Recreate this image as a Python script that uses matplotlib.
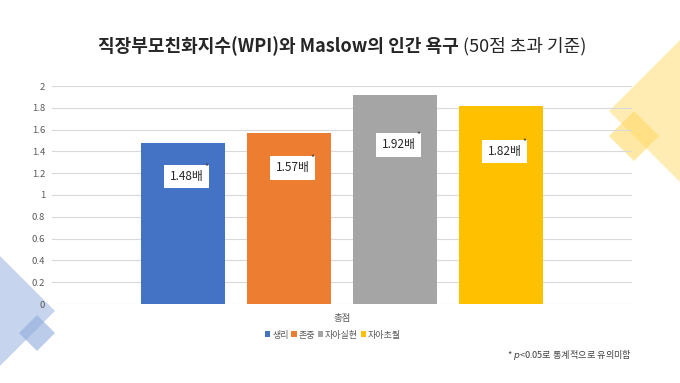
import matplotlib
matplotlib.use("Agg")
import matplotlib.pyplot as plt
from matplotlib.patches import Polygon, Patch
import numpy as np

plt.rcParams['font.family'] = ['Noto Sans CJK KR', 'DejaVu Sans']

series = ['생리', '존중', '자아실현', '자아초월']
values = [1.48, 1.57, 1.92, 1.82]
value_labels = ['1.48배', '1.57배', '1.92배', '1.82배']
label_y = [1.17, 1.25, 1.46, 1.40]
category = '총점'
colors = ['#4472C4', '#ED7D31', '#A5A5A5', '#FFC000']
yticks = [0, 0.2, 0.4, 0.6, 0.8, 1, 1.2, 1.4, 1.6, 1.8, 2]
ytick_labels = ['0', '0.2', '0.4', '0.6', '0.8', '1', '1.2', '1.4', '1.6', '1.8', '2']

W, H = 680, 383
fig = plt.figure(figsize=(W/100, H/100), dpi=100)

# decoration layer
deco = fig.add_axes([0, 0, 1, 1], zorder=0)
deco.set_xlim(0, W); deco.set_ylim(H, 0); deco.axis('off')
def diamond(cx, cy, r, color, alpha):
    deco.add_patch(Polygon([(cx - r, cy), (cx, cy - r), (cx + r, cy), (cx, cy + r)],
                           closed=True, facecolor=color, edgecolor='none', alpha=alpha))
diamond(-3, 311, 58, '#B4C7E7', 0.75)
diamond(37, 333, 18, '#8FAADC', 0.6)
diamond(680, 111, 71, '#FFE699', 0.75)
diamond(634, 136, 25, '#FFD966', 0.6)

ax = fig.add_axes([52/W, 1 - 304/H, 580/W, (304 - 86)/H], zorder=1)
ax.patch.set_alpha(0)
n = len(values)
width = 0.145
step = 0.1828
xs = (np.arange(n) - (n - 1) / 2) * step
ax.bar(xs, values, width=width, color=colors, zorder=3)
ax.set_xlim(-0.5, 0.5)
ax.set_ylim(0, 2)
ax.set_yticks(yticks)
ax.set_yticklabels(ytick_labels)
ax.set_xticks([0])
ax.set_xticklabels([category])
ax.tick_params(axis='both', length=0, labelsize=6.8, labelcolor='#595959')
ax.tick_params(axis='y', pad=5)
ax.tick_params(axis='x', pad=7)
ax.grid(axis='y', color='#D9D9D9', linewidth=0.8, zorder=0)
for s in ax.spines.values():
    s.set_visible(False)

for x, ly, t in zip(xs, label_y, value_labels):
    ax.text(x + 0.006, ly, t, ha='center', va='center', fontsize=8.5, color='#262626',
            bbox=dict(boxstyle='square,pad=0.45', facecolor='white', edgecolor='none'), zorder=5)
    ax.annotate('*', (x + 0.006, ly), xytext=(20, 10), textcoords='offset pixels',
                ha='center', va='center', fontsize=6, color='#404040', zorder=6)

# title
fig.text(459/W, 1 - 46/H, '직장부모친화지수(WPI)와 Maslow의 인간 욕구', ha='right', va='center',
         fontsize=13, fontweight='bold', color='#262626')
fig.text(463/W, 1 - 46/H, '(50점 초과 기준)', ha='left', va='center',
         fontsize=13, color='#262626')

handles = [Patch(facecolor=c, edgecolor='none') for c in colors]
fig.legend(handles, series, loc='center', bbox_to_anchor=(333/W, 1 - 335/H), ncol=4,
           frameon=False, fontsize=6.5, handlelength=0.6, handleheight=0.6,
           handletextpad=0.2, columnspacing=0.3, labelcolor='#595959')

fig.text(507/W, 1 - 355/H, '* $\\it{p}$<0.05로 통계적으로 유의미함', ha='left', va='center',
         fontsize=6.6, color='#404040')

fig.savefig('out.png', dpi=100)
